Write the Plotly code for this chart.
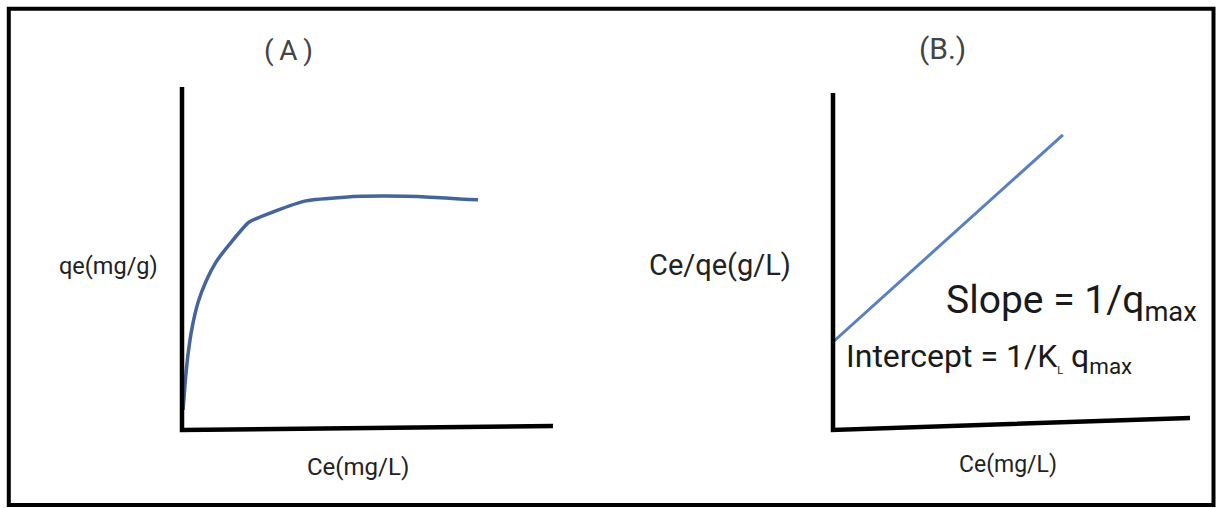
import plotly.graph_objects as go

# ---- data ----
# Panel A: Langmuir isotherm, qe vs Ce (arbitrary units 0-10)
ce_a = [0.03, 0.08, 0.16, 0.27, 0.43, 0.65, 0.92, 1.29, 1.81, 2.51, 3.34, 4.39, 5.42, 6.68, 7.98]
qe_a = [0.53, 1.26, 2.14, 2.93, 3.67, 4.31, 4.87, 5.40, 6.04, 6.36, 6.66, 6.77, 6.80, 6.77, 6.69]
# Panel B: linearised Langmuir, Ce/qe vs Ce
ce_b = [0.0, 6.44]
ceqe_b = [2.57, 8.75]

W, H = 1216, 508
def px(x):
    return x / W
def py(y):
    return 1 - y / H

FONT = "Roboto"

fig = go.Figure()
fig.add_trace(go.Scatter(x=ce_a, y=qe_a, mode="lines", xaxis="x", yaxis="y",
                         line=dict(color="#46649c", width=3.5, shape="spline", smoothing=0.5),
                         hoverinfo="skip", showlegend=False))
fig.add_trace(go.Scatter(x=ce_b, y=ceqe_b, mode="lines", xaxis="x2", yaxis="y2",
                         line=dict(color="#5b80c2", width=3),
                         hoverinfo="skip", showlegend=False))

axis_common = dict(range=[0, 10], showgrid=False, zeroline=False, showticklabels=False,
                   ticks="", showline=False, fixedrange=True)

fig.update_layout(
    width=W, height=H,
    margin=dict(l=0, r=0, t=0, b=0),
    paper_bgcolor="white", plot_bgcolor="rgba(0,0,0,0)",
    xaxis=dict(domain=[px(182), px(553)], anchor="y", **axis_common),
    yaxis=dict(domain=[py(428), py(87)], anchor="x", **axis_common),
    xaxis2=dict(domain=[px(833), px(1190)], anchor="y2", **axis_common),
    yaxis2=dict(domain=[py(428), py(93)], anchor="x2", **axis_common),
    showlegend=False,
)

shapes = [
    # outer frame
    dict(type="rect", xref="paper", yref="paper", x0=px(8.8), x1=px(1213.5), y0=py(505), y1=py(8.8),
         line=dict(color="black", width=4)),
    # panel A axes (hand drawn L)
    dict(type="path", xref="paper", yref="paper",
         path=f"M {px(182)},{py(87)} L {px(182)},{py(430)} L {px(553)},{py(426)}",
         line=dict(color="black", width=4.5)),
    # panel B axes
    dict(type="path", xref="paper", yref="paper",
         path=f"M {px(833)},{py(93)} L {px(833)},{py(430)} L {px(1190)},{py(418)}",
         line=dict(color="black", width=4.5)),
]
fig.update_layout(shapes=shapes)

def ann(text, x, y, size, color="#222", xanchor="center"):
    return dict(text=text, x=px(x), y=py(y), xref="paper", yref="paper", showarrow=False,
                xanchor=xanchor, yanchor="middle", font=dict(family=FONT, size=size, color=color))

annotations = [
    ann("(\u2009A\u2009)", 288, 50, 28, "#444"),
    ann("(B.)", 942, 48, 30, "#444"),
    ann("qe(mg/g)", 108, 266, 23.5),
    ann("Ce(mg/L)", 358, 467, 24),
    ann("Ce/qe(g/L)", 720, 265, 29),
    ann("Ce(mg/L)", 1008, 464, 23),
    ann("Slope = 1/q<sub>max</sub>", 944, 302, 39, "#1a1a1a", "left"),
    ann("Intercept = 1/K<sub><span style='font-size:11px'>L</span></sub> q<sub>max</sub>", 844, 358, 32, "#1a1a1a", "left"),
]
fig.update_layout(annotations=annotations)

fig.write_html("out.html")
